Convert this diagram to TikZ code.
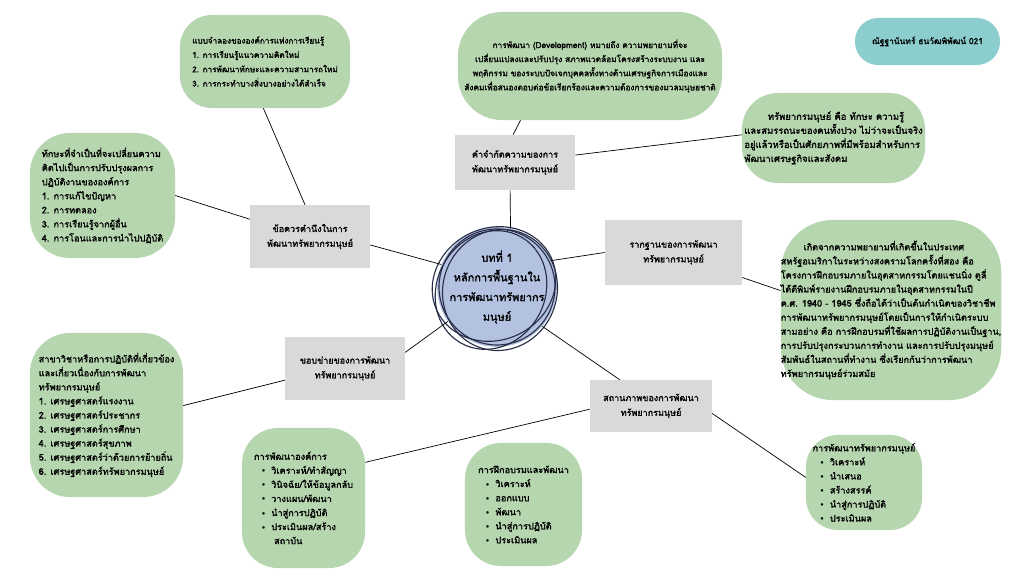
\documentclass[tikz,border=0pt]{standalone}
\usepackage{fontspec}
\newfontfamily\thaifont[Script=Thai,AutoFakeBold=1.6]{Loma}
\newfontfamily\dejavu{DejaVu Sans}
\newcommand\thaismall{\thaifont\bfseries\fontsize{6.5}{10}\selectfont}
\newcommand\thaimid{\thaifont\bfseries\fontsize{6.4}{10.5}\selectfont}
\newcommand\thaibig{\thaifont\bfseries\fontsize{7.8}{14}\selectfont}
\newcommand\bul{\hspace*{0.8em}{\dejavu\fontsize{5}{10}\selectfont •}\hspace{0.6em}}
\definecolor{sage}{RGB}{182,214,175}
\definecolor{boxgray}{RGB}{217,217,217}
\definecolor{circfill}{RGB}{178,194,224}
\definecolor{teal}{RGB}{140,205,205}
\definecolor{sketchline}{RGB}{40,46,72}
\begin{document}
\begin{tikzpicture}[x=0.025cm,y=-0.025cm,
  greenbox/.style={fill=sage, draw=none, inner sep=0pt, align=left, font=\thaismall},
  graybox/.style={fill=boxgray, draw=none, inner sep=0pt, align=center, font=\thaimid},
  link/.style={draw=black, line width=0.5pt},
  sketch/.style={draw=sketchline, line width=0.8pt}]
\useasboundingbox (0,0) rectangle (1024,576);
\fill[white] (0,0) rectangle (1024,576);

% green boxes
\node[greenbox, minimum width=4.25cm, minimum height=2.325cm, rounded corners=0.8cm, font=\thaifont\bfseries\fontsize{5.8}{10.2}\selectfont] (a) at (265,61.5)
 {แบบจำลองขององค์การแห่งการเรียนรู้\\1. การเรียนรู้แนวความคิดใหม่\\2. การพัฒนาทักษะและความสามารถใหม่\\3. การกระทำบางสิ่งบางอย่างได้สำเร็จ};
\node[greenbox, align=center, minimum width=6.6cm, minimum height=2.7cm, rounded corners=1.1cm, font=\thaifont\bfseries\fontsize{5.9}{10}\selectfont] (b) at (590,66)
 {การพัฒนา (Development) หมายถึง ความพยายามที่จะ\\เปลี่ยนแปลงและปรับปรุง สภาพแวดล้อมโครงสร้างระบบงาน และ\\พฤติกรรม ของระบบปัจเจกบุคคลทั้งทางด้านเศรษฐกิจการเมืองและ\\สังคมเพื่อสนองตอบต่อข้อเรียกร้องและความต้องการของมวลมนุษยชาติ};
\node[fill=teal, inner sep=0pt, minimum width=3.625cm, minimum height=1.175cm, rounded corners=0.58cm, font=\thaifont\bfseries\fontsize{6}{10}\selectfont] (c) at (927.5,41.5)
 {ณัฐฐานันทร์ ธนวัฒพิพัฒน์ 021};
\node[greenbox, minimum width=4.575cm, minimum height=2.25cm, rounded corners=0.9cm, font=\thaifont\bfseries\fontsize{6.7}{10}\selectfont] (d) at (833.5,138)
 {\hspace*{2.5em}ทรัพยากรมนุษย์ คือ ทักษะ ความรู้\\และสมรรถนะของคนทั้งปวง ไม่ว่าจะเป็นจริง\\อยู่แล้วหรือเป็นศักยภาพที่มีพร้อมสำหรับการ\\พัฒนาเศรษฐกิจและสังคม};
\node[greenbox, minimum width=3.625cm, minimum height=3.125cm, rounded corners=1.0cm] (e) at (102.5,195.5)
 {ทักษะที่จำเป็นที่จะเปลี่ยนความ\\คิดไปเป็นการปรับปรุงผลการ\\ปฏิบัติงานขององค์การ\\1. การแก้ไขปัญหา\\2. การทดลอง\\3. การเรียนรู้จากผู้อื่น\\4. การโอนและการนำไปปฏิบัติ};
\node[greenbox, minimum width=5.45cm, minimum height=4.5cm, rounded corners=1.3cm] (i) at (891,310)
 {\hspace*{2.5em}เกิดจากความพยายามที่เกิดขึ้นในประเทศ\\สหรัฐอเมริกาในระหว่างสงครามโลกครั้งที่สอง คือ\\โครงการฝึกอบรมภายในอุตสาหกรรมโดยแชนนิ่ง ดูลี่\\ได้ตีพิมพ์รายงานฝึกอบรมภายในอุตสาหกรรมในปี\\ค.ศ. 1940 - 1945 ซึ่งถือได้ว่าเป็นต้นกำเนิดของวิชาชีพ\\การพัฒนาทรัพยากรมนุษย์โดยเป็นการให้กำเนิดระบบ\\สามอย่าง คือ การฝึกอบรมที่ใช้ผลการปฏิบัติงานเป็นฐาน,\\การปรับปรุงกระบวนการทำงาน และการปรับปรุงมนุษย์\\สัมพันธ์ในสถานที่ทำงาน ซึ่งเรียกกันว่าการพัฒนา\\ทรัพยากรมนุษย์ร่วมสมัย};
\node[greenbox, minimum width=3.825cm, minimum height=4.1cm, rounded corners=1.0cm] (j) at (106.5,415)
 {สาขาวิชาหรือการปฏิบัติที่เกี่ยวข้อง\\และเกี่ยวเนื่องกับการพัฒนา\\ทรัพยากรมนุษย์\\1. เศรษฐศาสตร์แรงงาน\\2. เศรษฐศาสตร์ประชากร\\3. เศรษฐศาสตร์การศึกษา\\4. เศรษฐศาสตร์สุขภาพ\\5. เศรษฐศาสตร์ว่าด้วยการย้ายถิ่น\\6. เศรษฐศาสตร์ทรัพยากรมนุษย์};
\node[greenbox, minimum width=3.075cm, minimum height=3.5cm, rounded corners=0.9cm] (m) at (303.5,498)
 {การพัฒนาองค์การ\\\bul วิเคราะห์/ทำสัญญา\\\bul วินิจฉัย/ให้ข้อมูลกลับ\\\bul วางแผน/พัฒนา\\\bul นำสู่การปฏิบัติ\\\bul ประเมินผล/สร้าง\\\hspace*{2.2em}สถาบัน};
\node[greenbox, minimum width=2.925cm, minimum height=3.075cm, rounded corners=0.9cm] (n) at (523.5,504.5)
 {การฝึกอบรมและพัฒนา\\\bul วิเคราะห์\\\bul ออกแบบ\\\bul พัฒนา\\\bul นำสู่การปฏิบัติ\\\bul ประเมินผล};
\node[greenbox, minimum width=2.9cm, minimum height=2.375cm, rounded corners=0.8cm] (o) at (864,482.5)
 {การพัฒนาทรัพยากรมนุษย์\\\bul วิเคราะห์\\\bul นำเสนอ\\\bul สร้างสรรค์\\\bul นำสู่การปฏิบัติ\\\bul ประเมินผล};

% gray boxes
\node[graybox, minimum width=3.0cm, minimum height=1.575cm] (f) at (310,236.5) {ข้อควรคำนึงในการ\\พัฒนาทรัพยากรมนุษย์};
\node[graybox, minimum width=3.0cm, minimum height=1.375cm] (g) at (515,162.5) {คำจำกัดความของการ\\พัฒนาทรัพยากรมนุษย์};
\node[graybox, minimum width=3.425cm, minimum height=1.625cm] (h) at (673.5,252.5) {รากฐานของการพัฒนา\\ทรัพยากรมนุษย์};
\node[graybox, minimum width=3.0cm, minimum height=1.575cm] (k) at (345,368.5) {ขอบข่ายของการพัฒนา\\ทรัพยากรมนุษย์};
\node[graybox, minimum width=3.05cm, minimum height=1.3cm] (l) at (651,406) {สถานภาพของการพัฒนา\\ทรัพยากรมนุษย์};

% centre
\node[circle, fill=circfill, inner sep=0pt, minimum size=2.9cm, align=center, font=\thaibig] (z) at (497,287)
 {บทที่ 1\\หลักการพื้นฐานใน\\การพัฒนาทรัพยากร\\มนุษย์};
\draw[sketch] (497,287) circle [radius=58];
\draw[sketch, rotate around={25:(494,284)}] (494,284) ellipse [x radius=63, y radius=56];
\draw[sketch, rotate around={-20:(500,290)}] (500,290) ellipse [x radius=57, y radius=61];
\draw[sketch, rotate around={60:(491,290)}] (491,290) ellipse [x radius=61, y radius=54];

% connectors
\draw[link] (a.-92) -- (f.99);
\draw[link] (e.0) -- (f.164.6);
\draw[link] (f.-8) -- (z.158);
\draw[link] (g.94) -- (b.-142);
\draw[link] (g.7) -- (d.178);
\draw[link] (g.-100) -- (z.77);
\draw[link] (z.26.5) -- (h.180);
\draw[link] (h.-20.4) -- (i.170.8);
\draw[link] (z.-41.8) -- (l.140);
\draw[link] (l.-177) -- (m.30.3);
\draw[link] (l.-7.5) -- (o.175);
\draw[link] (z.-145) -- (k.15.4);
\draw[link] (k.191) -- (j.7.4);
\end{tikzpicture}
\end{document}
